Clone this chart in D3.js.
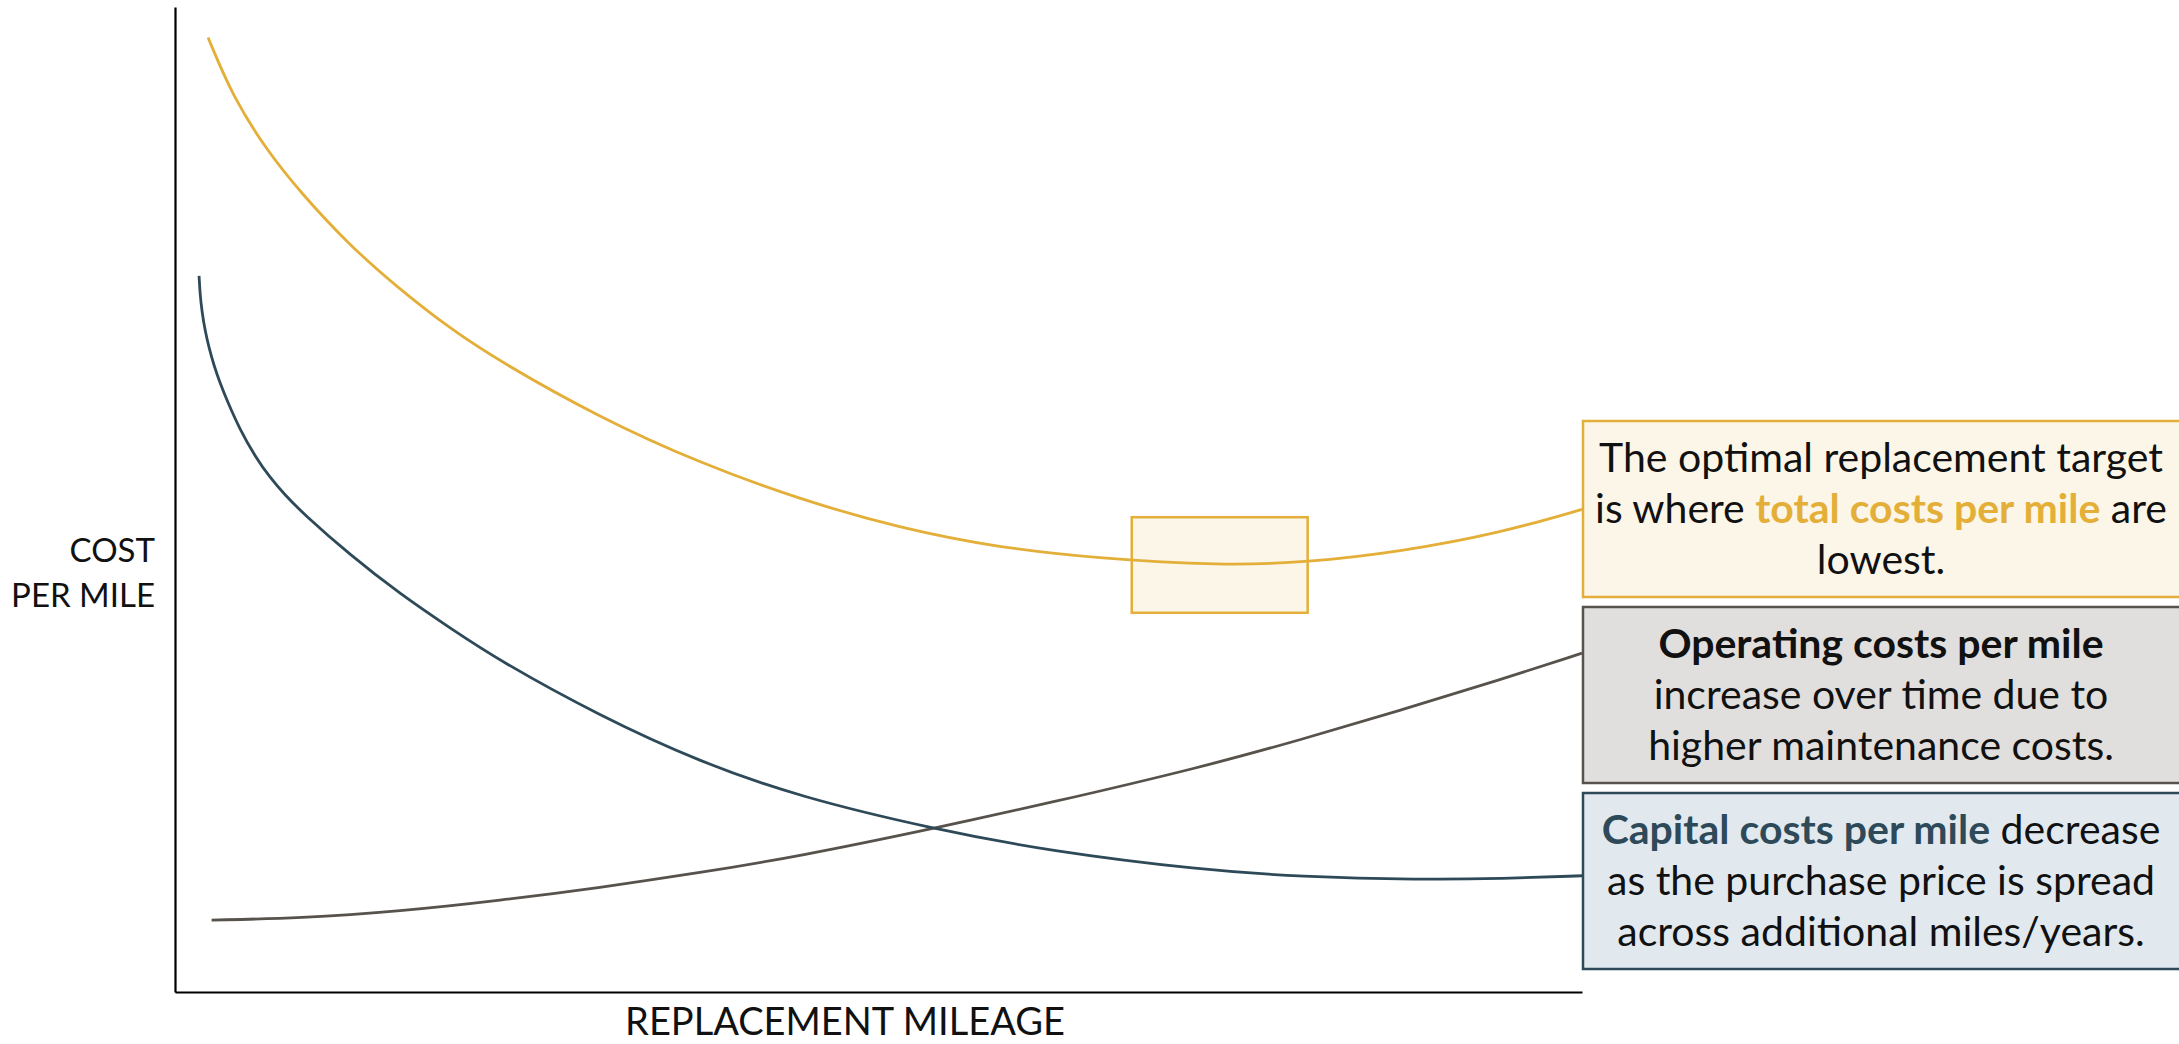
<!DOCTYPE html>
<html>
<head>
<meta charset="utf-8">
<script src="https://cdn.jsdelivr.net/npm/d3@7"></script>
<style>
  body { margin: 0; background: #fff; }
  svg { display: block; font-family: Lato, "Open Sans", sans-serif; }
</style>
</head>
<body>
<div id="wrapper"></div>
<script>
// values, x = replacement mileage, y = cost per mile (both 0-100)
const totalMiles = [2.35, 4.1, 6.5, 8.9, 12.4, 16, 19.6, 23.1, 30.2, 37.3, 44.4, 51.5, 58.6, 65.7, 74.3, 80.5, 87.1, 94.2, 100];
const totalCost = [96.9, 90.9, 85.5, 81.2, 75.8, 71.3, 67.3, 64, 58.3, 53.7, 50, 47.1, 45.1, 44, 43.3, 43.6, 44.7, 46.6, 49];

const capitalMiles = [1.71, 1.78, 1.92, 2.13, 2.42, 2.77, 3.2, 3.7, 4.62, 5.69, 6.75, 7.82, 9.03, 12.44, 16, 19.55, 23.1, 30.2, 37.3, 44.4, 53.9, 62.2, 72.9, 80, 88.5, 94.2, 100];
const capitalCost = [72.7, 70.86, 69.04, 67.21, 65.38, 63.6, 61.83, 60.05, 57.08, 54.39, 52.22, 50.45, 48.68, 44.37, 40.41, 36.95, 33.6, 28.02, 23.35, 19.8, 16.55, 14.3, 12.4, 11.7, 11.4, 11.5, 11.8];

const operatingMiles = [2.6, 8.9, 16, 23.1, 30.2, 37.3, 44.4, 53.9, 62.2, 72.9, 80, 87.1, 94.2, 100];
const operatingCost = [7.3, 7.5, 8.2, 9.3, 10.6, 12.1, 13.8, 16.6, 19.2, 22.8, 25.6, 28.6, 31.7, 34.4];

// the "sweet spot" window on the total curve
const targetMiles = [68, 80.5];
const targetCost = [38.5, 48.2];

const yLabel = ["COST", "PER MILE"];
const xLabel = "REPLACEMENT MILEAGE";

// callout text, each line is a list of [text, style] pieces
const noteTotal = [
  [["The optimal replacement target", ""]],
  [["is where ", ""], ["total costs per mile", "gold"], [" are", ""]],
  [["lowest.", ""]]
];
const noteOperating = [
  [["Operating costs per mile", "bold"]],
  [["increase over time due to", ""]],
  [["higher maintenance costs.", ""]]
];
const noteCapital = [
  [["Capital costs per mile", "slate"], [" decrease", ""]],
  [["as the purchase price is spread", ""]],
  [["across additional miles/years.", ""]]
];

const width = 2179, height = 1044;
const gold = "#E3AF38", slate = "#2E4A59", brown = "#57524C";

const x = d3.scaleLinear([0, 100], [175, 1582]);
const y = d3.scaleLinear([0, 100], [992, 7]);

const svg = d3.select("#wrapper").append("svg")
  .attr("width", width)
  .attr("height", height)
  .attr("viewBox", [0, 0, width, height]);

// highlight window first so the curve runs over it
svg.append("rect")
  .attr("x", x(targetMiles[0]))
  .attr("y", y(targetCost[1]))
  .attr("width", x(targetMiles[1]) - x(targetMiles[0]))
  .attr("height", y(targetCost[0]) - y(targetCost[1]))
  .attr("fill", "#FCF6E9")
  .attr("stroke", gold)
  .attr("stroke-width", 2.5);

const line = d3.line()
  .x(d => x(d[0]))
  .y(d => y(d[1]))
  .curve(d3.curveBasis);

const series = [
  { miles: operatingMiles, cost: operatingCost, color: brown },
  { miles: capitalMiles, cost: capitalCost, color: slate },
  { miles: totalMiles, cost: totalCost, color: gold }
];

svg.selectAll("path.curve")
  .data(series)
  .join("path")
  .attr("class", "curve")
  .attr("fill", "none")
  .attr("stroke", d => d.color)
  .attr("stroke-width", 2.8)
  .attr("d", d => line(d.miles.map((m, i) => [m, d.cost[i]])));

// axes: plain lines, no ticks
svg.append("g")
  .attr("transform", `translate(0,${y(0)})`)
  .call(d3.axisBottom(x).ticks(0).tickSize(0))
  .call(g => g.select(".domain").attr("stroke", "#000").attr("stroke-width", 2.2));
svg.append("g")
  .attr("transform", `translate(${x(0)},0)`)
  .call(d3.axisLeft(y).ticks(0).tickSize(0))
  .call(g => g.select(".domain").attr("stroke", "#000").attr("stroke-width", 2.2));

svg.append("text")
  .attr("text-anchor", "end")
  .attr("font-size", 33)
  .attr("fill", "#111")
  .selectAll("tspan")
  .data(yLabel)
  .join("tspan")
  .attr("x", 155)
  .attr("y", (d, i) => 562 + i * 45)
  .text(d => d);

svg.append("text")
  .attr("x", 845)
  .attr("y", 1035)
  .attr("text-anchor", "middle")
  .attr("font-size", 38)
  .attr("fill", "#111")
  .text(xLabel);

// callout boxes on the right
const boxes = [
  { top: 421, fill: "#FCF6E9", stroke: gold, lines: noteTotal },
  { top: 607, fill: "#E0DFDD", stroke: brown, lines: noteOperating },
  { top: 793, fill: "#E1E9EF", stroke: slate, lines: noteCapital }
];
const boxX = 1583, boxW = 610, boxH = 176;
const styles = {
  "": { weight: 400, color: "#111" },
  bold: { weight: 700, color: "#111" },
  gold: { weight: 700, color: gold },
  slate: { weight: 700, color: slate }
};

const box = svg.selectAll("g.note")
  .data(boxes)
  .join("g")
  .attr("class", "note");

box.append("rect")
  .attr("x", boxX)
  .attr("y", d => d.top)
  .attr("width", boxW)
  .attr("height", boxH)
  .attr("fill", d => d.fill)
  .attr("stroke", d => d.stroke)
  .attr("stroke-width", 2.5);

box.each(function (d) {
  const t = d3.select(this).append("text")
    .attr("text-anchor", "middle")
    .attr("font-size", 41);
  d.lines.forEach((ln, i) => {
    const row = t.append("tspan")
      .attr("x", 1881)
      .attr("y", d.top + boxH / 2 + (i - 1) * 51)
      .attr("dy", "0.35em");
    ln.forEach(p => {
      row.append("tspan")
        .attr("font-weight", styles[p[1]].weight)
        .attr("fill", styles[p[1]].color)
        .text(p[0]);
    });
  });
});
</script>
</body>
</html>
